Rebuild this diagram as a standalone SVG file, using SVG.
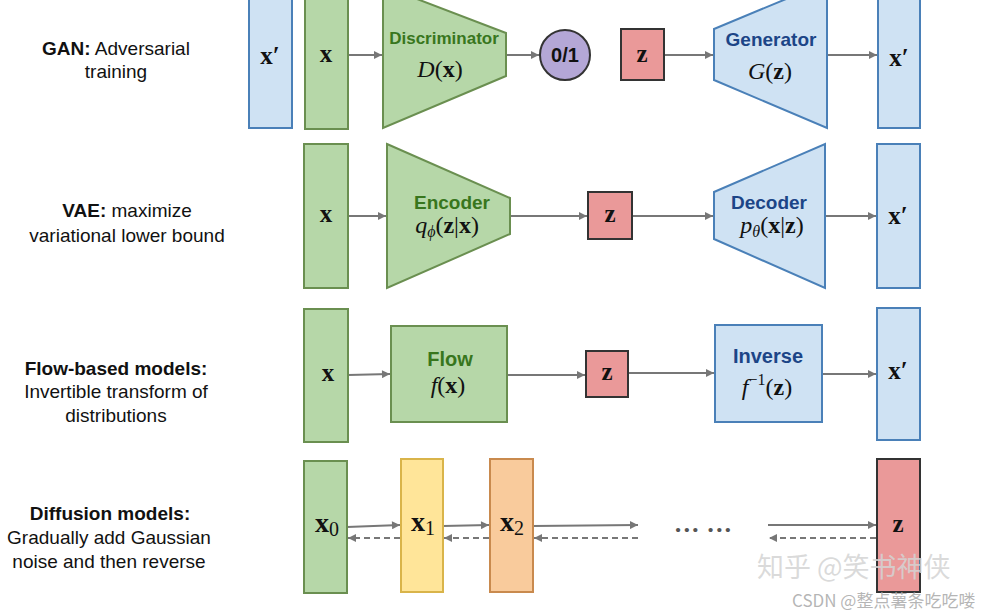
<svg xmlns="http://www.w3.org/2000/svg" width="998" height="614" viewBox="0 0 998 614">
<defs>
<marker id="ah" viewBox="0 0 10 10" refX="10" refY="5" markerWidth="10" markerHeight="8" markerUnits="userSpaceOnUse" orient="auto">
<path d="M0,0 L10,5 L0,10 z" fill="#777"/>
</marker>
</defs>
<style>
.g{fill:#b6d7a8;stroke:#6a8f50;stroke-width:2}
.b{fill:#cfe2f3;stroke:#4a80b8;stroke-width:2}
.r{fill:#ea9999;stroke:#333;stroke-width:2}
.p{fill:#b4a7d6;stroke:#333;stroke-width:2}
.y{fill:#ffe599;stroke:#d9b44a;stroke-width:2}
.o{fill:#f9cb9c;stroke:#c98a4e;stroke-width:2}
.lbl{font-family:"Liberation Sans",Arial,sans-serif;font-size:19px;fill:#111;text-anchor:middle}
.lbl .bd{font-weight:bold}
.gt{font-family:"Liberation Sans",Arial,sans-serif;font-weight:bold;font-size:19px;fill:#38761d;text-anchor:middle}
.bt{font-family:"Liberation Sans",Arial,sans-serif;font-weight:bold;font-size:19px;fill:#1c4587;text-anchor:middle}
.m{font-family:"Liberation Serif","Times New Roman",serif;font-size:24px;fill:#111;text-anchor:middle}
.mb{font-family:"Liberation Serif","Times New Roman",serif;font-size:25px;font-weight:bold;fill:#111;text-anchor:middle}
.it{font-style:italic;font-weight:normal}
.bf{font-weight:bold;font-style:normal}
.c{fill:none;stroke:#777;stroke-width:1.8;marker-end:url(#ah)}
.d{fill:none;stroke:#777;stroke-width:1.8;stroke-dasharray:6 4;marker-end:url(#ah)}
.wm{font-family:"Noto Sans CJK SC","Liberation Sans",sans-serif;fill:#d4d4d4;fill-opacity:0.85}
</style>

<g id="labels">
<text class="lbl" x="116" y="55"><tspan class="bd">GAN:</tspan> Adversarial</text>
<text class="lbl" x="116" y="78">training</text>
<text class="lbl" x="127" y="217"><tspan class="bd">VAE:</tspan> maximize</text>
<text class="lbl" x="127" y="242">variational lower bound</text>
<text class="lbl" x="116" y="375"><tspan class="bd">Flow-based models:</tspan></text>
<text class="lbl" x="116" y="398">Invertible transform of</text>
<text class="lbl" x="116" y="422">distributions</text>
<text class="lbl" x="110" y="520"><tspan class="bd">Diffusion models:</tspan></text>
<text class="lbl" x="109" y="544">Gradually add Gaussian</text>
<text class="lbl" x="109" y="568">noise and then reverse</text>
</g>

<g id="connectors">
<line class="c" x1="348" y1="55" x2="382" y2="55"/>
<line class="c" x1="506" y1="55" x2="539" y2="55"/>
<line class="c" x1="664" y1="55" x2="713" y2="55"/>
<line class="c" x1="827" y1="55" x2="877" y2="55"/>
<line class="c" x1="348" y1="216" x2="386" y2="216"/>
<line class="c" x1="510" y1="216" x2="587" y2="216"/>
<line class="c" x1="632" y1="216" x2="713" y2="216"/>
<line class="c" x1="825" y1="216" x2="876" y2="216"/>
<line class="c" x1="348" y1="375" x2="390" y2="374"/>
<line class="c" x1="507" y1="375" x2="585" y2="375"/>
<line class="c" x1="628" y1="373" x2="714" y2="373"/>
<line class="c" x1="822" y1="374" x2="876" y2="374"/>
<line class="c" x1="347" y1="527" x2="400" y2="525"/>
<line class="c" x1="443" y1="526" x2="489" y2="525"/>
<line class="c" x1="533" y1="526" x2="638" y2="525"/>
<line class="c" x1="768" y1="525" x2="876" y2="525"/>
<line class="d" x1="400" y1="538" x2="348" y2="538"/>
<line class="d" x1="489" y1="538" x2="444" y2="538"/>
<line class="d" x1="638" y1="538" x2="534" y2="538"/>
<line class="d" x1="876" y1="538" x2="769" y2="538"/>
</g>

<g id="gan-xprime-in"><rect class="b" x="249" y="-5" width="43" height="133"/><text class="mb" x="270" y="64">x′</text></g>
<g id="gan-x"><rect class="g" x="305" y="-5" width="43" height="134"/><text class="mb" x="326" y="62">x</text></g>
<g id="gan-disc"><polygon class="g" points="383,-14 506,33 506,76 383,128"/>
<text class="gt" x="444" y="44" style="font-size:17px">Discriminator</text>
<text class="m" x="440" y="77"><tspan class="it">D</tspan>(<tspan class="bf">x</tspan>)</text></g>
<g id="gan-out"><circle class="p" cx="565" cy="55" r="25"/><text class="lbl" x="565" y="62" style="font-weight:bold;font-size:20px">0/1</text></g>
<g id="gan-z"><rect class="r" x="621" y="29" width="43" height="51"/><text class="mb" x="642" y="62">z</text></g>
<g id="gan-gen"><polygon class="b" points="714,29 827,-18 827,128 714,80"/>
<text class="bt" x="771" y="46">Generator</text>
<text class="m" x="770" y="79"><tspan class="it">G</tspan>(<tspan class="bf">z</tspan>)</text></g>
<g id="gan-xprime-out"><rect class="b" x="878" y="-5" width="42" height="133"/><text class="mb" x="899" y="66">x′</text></g>

<g id="vae-x"><rect class="g" x="304" y="144" width="44" height="144"/><text class="mb" x="326" y="222">x</text></g>
<g id="vae-enc"><polygon class="g" points="387,144 510,198 510,234 387,288"/>
<text class="gt" x="452" y="209">Encoder</text>
<text class="m" x="447" y="233"><tspan class="it">q</tspan><tspan class="it" style="font-size:16px" dy="4">ϕ</tspan><tspan dy="-4">(</tspan><tspan class="bf">z</tspan>|<tspan class="bf">x</tspan>)</text></g>
<g id="vae-z"><rect class="r" x="588" y="192" width="44" height="47"/><text class="mb" x="610" y="222">z</text></g>
<g id="vae-dec"><polygon class="b" points="714,192 825,144 825,288 714,239"/>
<text class="bt" x="769" y="209">Decoder</text>
<text class="m" x="772" y="233"><tspan class="it">p</tspan><tspan class="it" style="font-size:16px" dy="4">θ</tspan><tspan dy="-4">(</tspan><tspan class="bf">x</tspan>|<tspan class="bf">z</tspan>)</text></g>
<g id="vae-xprime"><rect class="b" x="877" y="144" width="43" height="144"/><text class="mb" x="898" y="224">x′</text></g>

<g id="flow-x"><rect class="g" x="304" y="309" width="44" height="133"/><text class="mb" x="328" y="381">x</text></g>
<g id="flow-f"><rect class="g" x="391" y="326" width="116" height="96"/>
<text class="gt" x="450" y="366" style="font-size:20px">Flow</text>
<text class="m" x="448" y="393"><tspan class="it">f</tspan>(<tspan class="bf">x</tspan>)</text></g>
<g id="flow-z"><rect class="r" x="586" y="351" width="42" height="46"/><text class="mb" x="607" y="380">z</text></g>
<g id="flow-inv"><rect class="b" x="715" y="325" width="107" height="97"/>
<text class="bt" x="768" y="363" style="font-size:20px">Inverse</text>
<text class="m" x="767" y="395"><tspan class="it">f</tspan><tspan style="font-size:16px" dy="-10">−1</tspan><tspan dy="10">(</tspan><tspan class="bf">z</tspan>)</text></g>
<g id="flow-xprime"><rect class="b" x="877" y="308" width="43" height="132"/><text class="mb" x="898" y="379">x′</text></g>

<g id="diff-x0"><rect class="g" x="304" y="461" width="43" height="132"/><text class="mb" x="327" y="532" style="font-size:28px">x<tspan style="font-weight:normal;font-size:20px" dy="4">0</tspan></text></g>
<g id="diff-x1"><rect class="y" x="401" y="459" width="42" height="133"/><text class="mb" x="423" y="531" style="font-size:28px">x<tspan style="font-weight:normal;font-size:20px" dy="4">1</tspan></text></g>
<g id="diff-x2"><rect class="o" x="490" y="459" width="43" height="133"/><text class="mb" x="512" y="531" style="font-size:28px">x<tspan style="font-weight:normal;font-size:20px" dy="4">2</tspan></text></g>
<g id="diff-dots"><text class="mb" x="703" y="538" style="font-size:26px;fill:#555">··· ···</text></g>
<g id="diff-z"><rect class="r" x="877" y="459" width="43" height="133"/><text class="mb" x="898" y="532">z</text></g>

<g id="watermark">
<text class="wm" x="757" y="577" style="font-size:27px">知乎 @笑书神侠</text>
<text class="wm" x="792" y="607" style="font-size:17px;fill:#a8a8a8">CSDN @整点薯条吃吃喽</text>
</g>
</svg>
